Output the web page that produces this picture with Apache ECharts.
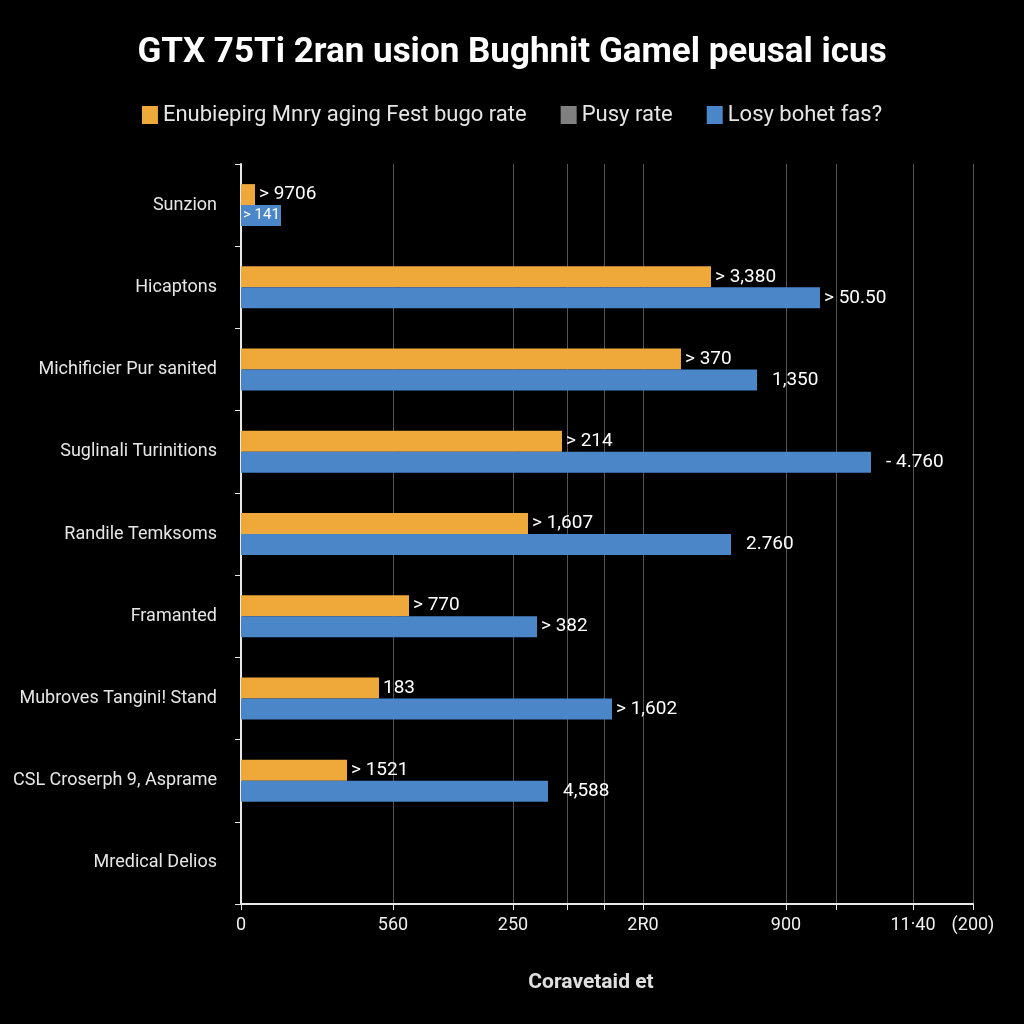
<!DOCTYPE html>
<html>
<head>
<meta charset="utf-8">
<script src="https://cdn.jsdelivr.net/npm/echarts@6/dist/echarts.min.js"></script>
<style>
html,body{margin:0;padding:0;background:#000;}
#chart{width:1024px;height:1024px;}
</style>
</head>
<body>
<div id="chart"></div>
<script>
// ---- data ----
const titleText = "GTX 75Ti 2ran usion Bughnit Gamel peusal icus";
const seriesNames = ["Enubiepirg Mnry aging Fest bugo rate", "Pusy rate", "Losy bohet fas?"];
const categories = ["Sunzion", "Hicaptons", "Michificier Pur sanited", "Suglinali Turinitions", "Randile Temksoms", "Framanted", "Mubroves Tangini! Stand", "CSL Croserph 9, Asprame", "Mredical Delios"];
const orangeValues = [14, 470, 440, 321, 287, 168, 138, 106, null];
const blueValues = [40, 579, 516, 630, 490, 296, 371, 307, null];
const grayValues = [];
const orangeLabels = ["> 9706", "> 3,380", "> 370", "> 214", "> 1,607", "> 770", "183", "> 1521", ""];
const blueLabels = ["> 141", "> 50.50", "1,350", "- 4.760", "2.760", "> 382", "> 1,602", "4,588", ""];
const tickValues = [0, 152, 272, 326, 363, 402, 545, 595, 672, 732];
const tickLabelValues = [0, 152, 272, 402, 545, 672, 732];
const tickLabels = ["0", "560", "250", "2R0", "900", "11·40", "(200)"];
const xAxisName = "Coravetaid et";
const axisMax = 732;

// ---- chart ----
const FONT = "Roboto, 'Noto Sans', sans-serif";
const colors = ["#EFA83A", "#808080", "#4A86C8"];

function buildData(values, labels, insideFirst) {
  return values.map((v, i) => {
    const item = { value: v };
    const txt = labels[i];
    const gap = txt.startsWith(">") || txt === "183" ? 4 : 15;
    item.label = { formatter: txt, distance: gap };
    if (insideFirst && i === 0) {
      item.label.position = "insideLeft";
      item.label.distance = 2;
      item.label.fontSize = 15;
    }
    return item;
  });
}

const chart = echarts.init(document.getElementById("chart"));
chart.setOption({
  backgroundColor: "#000",
  animation: false,
  title: {
    text: titleText,
    left: "center",
    top: 31,
    textStyle: { color: "#fff", fontSize: 35, fontWeight: "bold", fontFamily: FONT }
  },
  legend: {
    top: 99,
    left: "center",
    itemWidth: 16,
    itemHeight: 18,
    itemGap: 34,
    icon: "rect",
    data: seriesNames,
    textStyle: { color: "#e6e6e6", fontSize: 22, fontFamily: FONT }
  },
  grid: { left: 241, right: 51, top: 164, bottom: 120, containLabel: false },
  xAxis: {
    type: "value",
    min: 0,
    max: axisMax,
    name: xAxisName,
    nameLocation: "middle",
    nameGap: 68,
    nameTextStyle: { color: "#e0e0e0", fontSize: 21, fontWeight: "bold", fontFamily: FONT, padding: [0, 32, 0, 0] },
    axisLine: { show: true, lineStyle: { color: "#e8e8e8", width: 2 } },
    axisTick: { show: true, customValues: tickValues, length: 6, lineStyle: { color: "#e8e8e8" } },
    axisLabel: {
      customValues: tickLabelValues,
      color: "#f0f0f0",
      fontSize: 18,
      fontFamily: FONT,
      margin: 12,
      formatter: v => {
        const idx = tickLabelValues.indexOf(v);
        return idx >= 0 ? tickLabels[idx] : "";
      }
    },
    splitLine: { show: true, lineStyle: { color: "#555", width: 1 } }
  },
  yAxis: [
    {
      type: "category",
      data: categories,
      inverse: true,
      axisLine: { show: true, lineStyle: { color: "#e8e8e8", width: 2 } },
      axisTick: { show: true, length: 6, lineStyle: { color: "#e8e8e8" } },
      axisLabel: { color: "#e6e6e6", fontSize: 18, fontFamily: FONT, margin: 24 },
      splitLine: { show: false }
    },
    {
      type: "category",
      data: categories,
      inverse: true,
      show: false
    }
  ],
  series: [
    {
      name: seriesNames[0],
      type: "bar",
      yAxisIndex: 0,
      barWidth: 21,
      barGap: "0%",
      itemStyle: { color: colors[0] },
      label: { show: true, position: "right", color: "#fff", fontSize: 19, fontFamily: FONT },
      data: buildData(orangeValues, orangeLabels, false)
    },
    {
      name: seriesNames[1],
      type: "bar",
      yAxisIndex: 1,
      itemStyle: { color: colors[1] },
      data: grayValues
    },
    {
      name: seriesNames[2],
      type: "bar",
      yAxisIndex: 0,
      barWidth: 21,
      barGap: "0%",
      itemStyle: { color: colors[2] },
      label: { show: true, position: "right", color: "#fff", fontSize: 19, fontFamily: FONT },
      data: buildData(blueValues, blueLabels, true)
    }
  ]
});
</script>
</body>
</html>
